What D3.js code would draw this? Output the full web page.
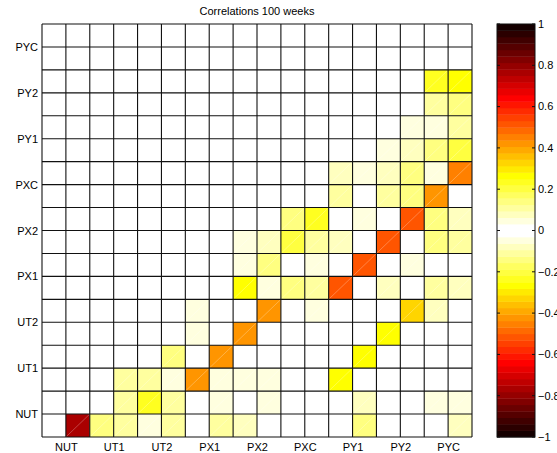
<!DOCTYPE html>
<html>
<head>
<meta charset="utf-8">
<script src="https://cdn.jsdelivr.net/npm/d3@7"></script>
<style>
  html, body { margin: 0; padding: 0; background: #fff; }
  svg { display: block; font-family: "Liberation Sans", Arial, Helvetica, sans-serif; }
</style>
</head>
<body>
<svg id="chart" width="557" height="453"></svg>
<script>
// Variable names shown on both axes (each spans two grid cells)
const variables = ["NUT", "UT1", "UT2", "PX1", "PX2", "PXC", "PY1", "PY2", "PYC"];

// Colour bar tick values and labels
const barTicks = [-1, -0.8, -0.6, -0.4, -0.2, 0, 0.2, 0.4, 0.6, 0.8, 1];
const barTickLabels = ["\u22121", "\u22120.8", "\u22120.6", "\u22120.4", "\u22120.2", "0", "0.2", "0.4", "0.6", "0.8", "1"];

// Correlation grid, 18 x 18, rows listed from top to bottom
const corrRows = [
  [0,0,0,0,0,0,0,0,0,0,0,0,0,0,0,0,0,0],
  [0,0,0,0,0,0,0,0,0,0,0,0,0,0,0,0,0,0],
  [0,0,0,0,0,0,0,0,0,0,0,0,0,0,0,0,0.22,0.26],
  [0,0,0,0,0,0,0,0,0,0,0,0,0,0,0,0,0.12,0.15],
  [0,0,0,0,0,0,0,0,0,0,0,0,0,0,0,0.05,0.06,0.12],
  [0,0,0,0,0,0,0,0,0,0,0,0,0,0,0.05,0.07,0.13,0.21],
  [0,0,0,0,0,0,0,0,0,0,0,0,0.09,0.05,0.07,0.14,0.05,0.46],
  [0,0,0,0,0,0,0,0,0,0,0,0,0.10,0,0.10,0.13,0.43,0],
  [0,0,0,0,0,0,0,0,0,0,0.14,0.22,0,0.05,0,0.52,0.14,0.09],
  [0,0,0,0,0,0,0,0,0.04,0.07,0.21,0.12,0.09,0,0.52,0,0.14,0.12],
  [0,0,0,0,0,0,0,0,0.05,0.14,0,0.05,0,0.52,0,0.05,0,0],
  [0,0,0,0,0,0,0,0,0.27,0.05,0.13,0.10,0.53,0,0.08,0,0.11,0.09],
  [0,0,0,0,0,0,0.05,0,0,0.42,0,0.05,0,0,0,0.32,0.08,0],
  [0,0,0,0,0,0,0.05,0,0.42,0,0,0,0,0,0.27,0,0,0],
  [0,0,0,0,0,0.14,0,0.42,0,0,0,0,0,0.27,0,0,0,0],
  [0,0,0,0.10,0.12,0.06,0.42,0.05,0.05,0.06,0,0,0.27,0,0,0,0,0],
  [0,0,0,0.12,0.22,0.12,0,0.05,0,0.05,0,0,0,0.08,0,0,0.06,0.06],
  [0,0.77,0.14,0.10,0.05,0.10,0,0.10,0.07,0,0,0,0,0.14,0,0,0,0.07]
];

// Symmetric 64-step colour map: white at zero, through yellow, orange and red to black at +/-1
function hot32(j) {
  const r = j <= 12 ? j / 12 : 1;
  const g = j <= 12 ? 0 : (j <= 24 ? (j - 12) / 12 : 1);
  const b = j <= 24 ? 0 : (j - 24) / 8;
  return d3.rgb(Math.round(r * 255), Math.round(g * 255), Math.round(b * 255)).toString();
}
const palette = d3.range(64).map(i => hot32(i < 32 ? i + 1 : 64 - i));
const color = d3.scaleQuantize().domain([-1, 1]).range(palette);

const svg = d3.select("#chart");

const plot = { left: 42, right: 472, top: 24, bottom: 437 };
const n = corrRows.length;

const xBand = d3.scaleBand().domain(d3.range(n)).range([plot.left, plot.right]).paddingInner(0).paddingOuter(0);
const yBand = d3.scaleBand().domain(d3.range(n)).range([plot.top, plot.bottom]).paddingInner(0).paddingOuter(0);

// Continuous scales for the axis ticks (grid units, y from the bottom)
const xLin = d3.scaleLinear().domain([0, n]).range([plot.left, plot.right]);
const yLin = d3.scaleLinear().domain([0, n]).range([plot.bottom, plot.top]);

// Cells
const cells = [];
corrRows.forEach((row, r) => row.forEach((v, c) => cells.push({ r, c, v })));

const gCells = svg.append("g");
gCells.selectAll("rect")
  .data(cells)
  .join("rect")
  .attr("x", d => xBand(d.c))
  .attr("y", d => yBand(d.r))
  .attr("width", xBand.bandwidth())
  .attr("height", yBand.bandwidth())
  .attr("fill", d => color(d.v));

// Faint seam along each patch diagonal
gCells.selectAll("line")
  .data(cells.filter(d => color(d.v) !== "rgb(255, 255, 255)"))
  .join("line")
  .attr("x1", d => xBand(d.c))
  .attr("y1", d => yBand(d.r) + yBand.bandwidth())
  .attr("x2", d => xBand(d.c) + xBand.bandwidth())
  .attr("y2", d => yBand(d.r))
  .attr("stroke", "#fff")
  .attr("stroke-opacity", 0.45)
  .attr("stroke-width", 0.6);

// Cell edges
const gGrid = svg.append("g").attr("stroke", "#111").attr("stroke-width", 1.1);
gGrid.selectAll("line.v")
  .data(d3.range(n + 1))
  .join("line")
  .attr("class", "v")
  .attr("x1", i => xLin(i)).attr("x2", i => xLin(i))
  .attr("y1", plot.top).attr("y2", plot.bottom);
gGrid.selectAll("line.h")
  .data(d3.range(n + 1))
  .join("line")
  .attr("class", "h")
  .attr("y1", i => yLin(i)).attr("y2", i => yLin(i))
  .attr("x1", plot.left).attr("x2", plot.right);

// Axes: one label per variable, at the boundary inside its pair of cells
const tickPos = variables.map((_, k) => 2 * k + 1);

const xAxis = d3.axisBottom(xLin)
  .tickValues(tickPos)
  .tickFormat((d, i) => variables[i])
  .tickSize(0)
  .tickPadding(6);
svg.append("g")
  .attr("transform", `translate(0,${plot.bottom})`)
  .call(xAxis)
  .call(g => g.select(".domain").remove())
  .call(g => g.selectAll("text").attr("font-size", 11).attr("fill", "#000").attr("font-family", null));

const yAxis = d3.axisLeft(yLin)
  .tickValues(tickPos)
  .tickFormat((d, i) => variables[i])
  .tickSize(0)
  .tickPadding(4);
svg.append("g")
  .attr("transform", `translate(${plot.left},0)`)
  .call(yAxis)
  .call(g => g.select(".domain").remove())
  .call(g => g.selectAll("text").attr("font-size", 11).attr("fill", "#000").attr("font-family", null));

// Title
svg.append("text")
  .attr("x", (plot.left + plot.right) / 2)
  .attr("y", 15)
  .attr("text-anchor", "middle")
  .attr("font-size", 11)
  .text("Correlations 100 weeks");

// Colour bar
const bar = { left: 497, right: 535, top: 24, bottom: 437 };
const barY = d3.scaleLinear().domain([-1, 1]).range([bar.bottom, bar.top]);
const step = 2 / palette.length;
const gBar = svg.append("g");
gBar.selectAll("rect")
  .data(palette.map((c, i) => ({ c, lo: -1 + i * step, hi: -1 + (i + 1) * step })))
  .join("rect")
  .attr("x", bar.left)
  .attr("width", bar.right - bar.left)
  .attr("y", d => barY(d.hi))
  .attr("height", d => barY(d.lo) - barY(d.hi) + 0.4)
  .attr("fill", d => d.c);
gBar.append("rect")
  .attr("x", bar.left).attr("y", bar.top)
  .attr("width", bar.right - bar.left).attr("height", bar.bottom - bar.top)
  .attr("fill", "none").attr("stroke", "#111").attr("stroke-width", 1);

const gBarTicks = svg.append("g").attr("stroke", "#111").attr("stroke-width", 1);
gBarTicks.selectAll("line.l")
  .data(barTicks)
  .join("line").attr("class", "l")
  .attr("x1", bar.left).attr("x2", bar.left + 3)
  .attr("y1", d => barY(d)).attr("y2", d => barY(d));
gBarTicks.selectAll("line.r")
  .data(barTicks)
  .join("line").attr("class", "r")
  .attr("x1", bar.right - 3).attr("x2", bar.right)
  .attr("y1", d => barY(d)).attr("y2", d => barY(d));

svg.append("g").selectAll("text")
  .data(barTicks)
  .join("text")
  .attr("x", bar.right + 3)
  .attr("y", d => barY(d))
  .attr("dy", "0.35em")
  .attr("font-size", 11)
  .text((d, i) => barTickLabels[i]);
</script>
</body>
</html>
